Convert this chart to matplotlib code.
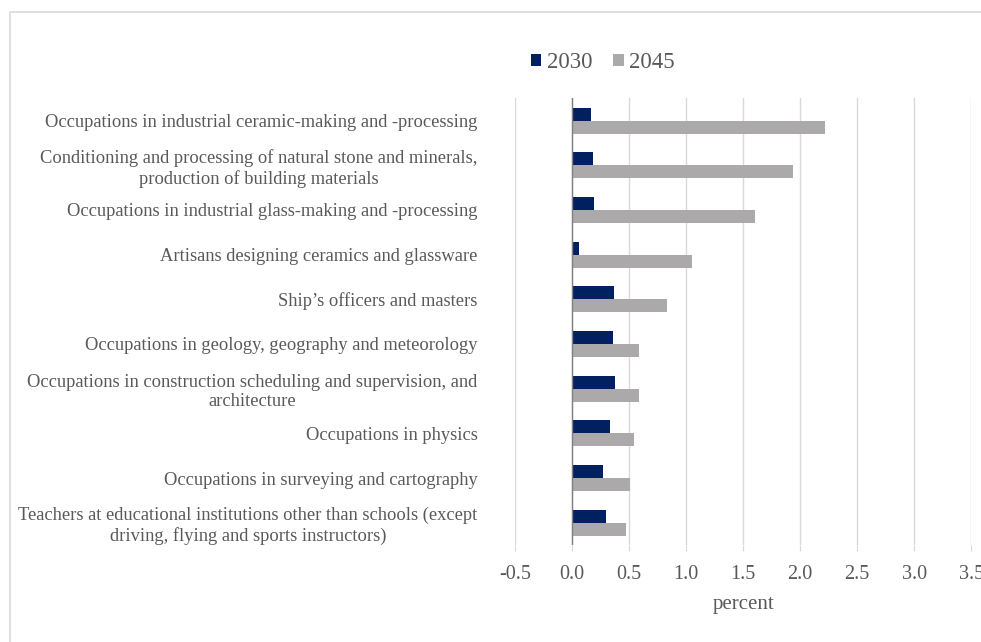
import matplotlib.pyplot as plt
from matplotlib.patches import Rectangle
import numpy as np

plt.rcParams['font.family'] = ['Liberation Serif', 'DejaVu Serif']

# occupations, top to bottom
categories = [
    "Occupations in industrial ceramic-making and -processing",
    "Conditioning and processing of natural stone and minerals,\nproduction of building materials",
    "Occupations in industrial glass-making and -processing",
    "Artisans designing ceramics and glassware",
    "Ship\u2019s officers and masters",
    "Occupations in geology, geography and meteorology",
    "Occupations in construction scheduling and supervision, and\narchitecture",
    "Occupations in physics",
    "Occupations in surveying and cartography",
    "Teachers at educational institutions other than schools (except\ndriving, flying and sports instructors)",
]
vals_2030 = [0.17, 0.18, 0.19, 0.065, 0.37, 0.36, 0.38, 0.335, 0.27, 0.30]
vals_2045 = [2.22, 1.94, 1.60, 1.055, 0.83, 0.59, 0.585, 0.54, 0.505, 0.47]
xticks = [-0.5, 0.0, 0.5, 1.0, 1.5, 2.0, 2.5, 3.0, 3.5]

txt = '#595959'
navy = '#002060'
grey = '#ABA9A9'

fig = plt.figure(figsize=(9.81, 6.42), dpi=100)
ax = fig.add_axes([0.525, 0.151, 0.465, 0.696])

# chart border (extends past the right and bottom edge)
fig.patches.append(Rectangle((10/981, -0.1), 1.2, 1 - 12/642 + 0.1,
                             transform=fig.transFigure, fill=False,
                             edgecolor='#D9D9D9', linewidth=1.2))

y = np.arange(len(categories))
h = 0.29
ax.barh(y - h/2, vals_2030, height=h, color=navy, label='2030', zorder=3)
ax.barh(y + h/2, vals_2045, height=h, color=grey, label='2045', zorder=3)

ax.set_ylim(len(categories) - 0.5, -0.5)
ax.set_xlim(-0.5, 3.5)
ax.set_xticks(xticks)
ax.set_xticklabels([f'{t:.1f}' for t in xticks])
ax.set_yticks(y)
ax.set_yticklabels(categories, multialignment='center', linespacing=1.2)

ax.grid(axis='x', color='#D9D9D9', linewidth=1, zorder=0)
ax.axvline(0, color='#808080', linewidth=1, zorder=4)
for s in ax.spines.values():
    s.set_visible(False)

ax.tick_params(axis='y', length=0, pad=27, labelsize=13.3, labelcolor=txt)
ax.tick_params(axis='x', length=4, color='#D9D9D9', labelsize=14.5,
               labelcolor=txt, pad=10)
ax.set_xlabel('percent', fontsize=15, color=txt, labelpad=8)

fig.legend(loc='center', bbox_to_anchor=(603/981, 1 - 63/642), ncol=2,
           frameon=False, fontsize=16.5, labelcolor=txt, handlelength=0.45,
           handleheight=0.45, handletextpad=0.25, columnspacing=0.9)

fig.savefig('out.png', dpi=100)
